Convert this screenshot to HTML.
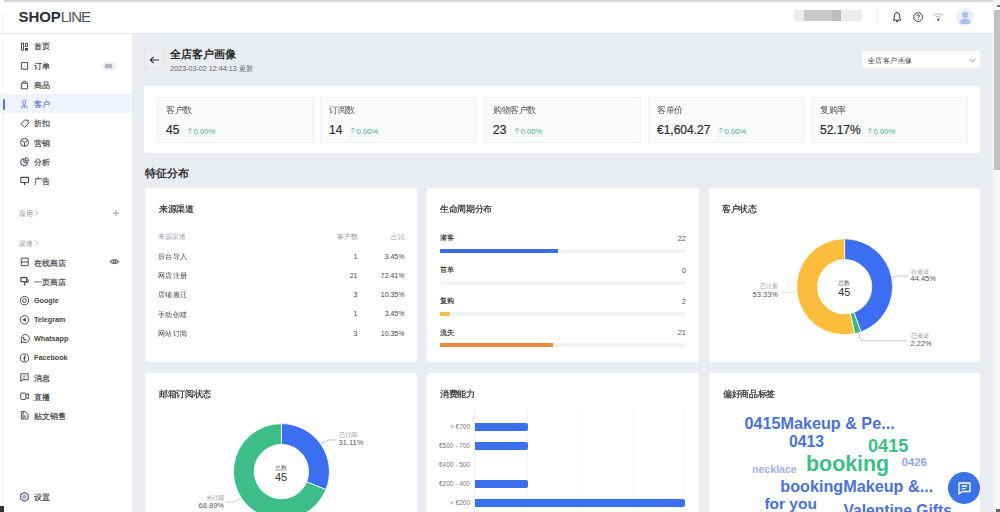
<!DOCTYPE html>
<html><head><meta charset="utf-8">
<style>
*{box-sizing:border-box;margin:0;padding:0}
html,body{width:1000px;height:512px;overflow:hidden;background:#fff;font-family:"Liberation Sans",sans-serif;color:#333}
.abs{position:absolute}
#topline{position:absolute;left:4px;top:0;width:990px;height:1.5px;background:#d6d6d6}
#header{position:absolute;left:0;top:1.5px;width:994px;height:32.5px;background:#fff;border-bottom:1px solid #e3e5ea}
#side{position:absolute;left:0;top:34px;width:132px;height:478px;background:#fff}
#main{position:absolute;left:132px;top:34px;width:862px;height:478px;background:#e9ecf1}
#sb{position:absolute;left:993px;top:0;width:7px;height:512px;background:#f6f6f6}
#sbt{position:absolute;left:994px;top:10px;width:6px;height:160px;background:#c1c1c1}
.nv{position:absolute;left:34px;font-size:7.5px;line-height:8px;color:#33363c;-webkit-text-stroke-width:0.15px;white-space:nowrap}
.nv.en{font-weight:bold;font-size:7.2px;color:#444;-webkit-text-stroke:0}
.card{position:absolute;background:#fff;border-radius:3px}
.ct{position:absolute;font-size:8px;line-height:10px;transform:scale(1.08);transform-origin:0 0;color:#2a2a2a;-webkit-text-stroke:0.2px #2a2a2a;white-space:nowrap}
.stat{position:absolute;background:#fafbfc;border:1px solid #eef0f3;border-radius:2px;top:97px;width:157px;height:46px}
.stat .l{position:absolute;left:8px;top:8.1px;font-size:8px;transform:scale(1.065);transform-origin:0 0;line-height:10px;color:#555;white-space:nowrap}
.stat .v{position:absolute;left:8px;top:25.8px;font-size:12px;line-height:13px;font-weight:normal;-webkit-text-stroke:0.2px #2a2a2a;color:#2a2a2a;white-space:nowrap}
.stat .g{position:absolute;top:29px;font-size:7.7px;line-height:8px;color:#45ad84;border-bottom:1px dotted #dcefe6;padding-bottom:0;white-space:nowrap}
.t7{position:absolute;font-size:7px;line-height:8px;color:#444;white-space:nowrap}
.r{text-align:right}
.wc{position:absolute;font-weight:bold;line-height:1;white-space:nowrap}
</style></head><body>
<div id="topline"></div>
<div id="header">
  <div class="abs" style="left:18.5px;top:7px;font-size:15px;line-height:15px;font-weight:bold;color:#2b2f36;letter-spacing:-0.1px;white-space:nowrap">SHOP<span style="font-weight:normal;color:#50545a;letter-spacing:-1px">LINE</span></div>
</div>
<div id="side"></div>
<div class="abs" style="left:2px;top:12px;width:1px;height:500px;background:#f1f2f4"></div>
<div id="main"></div>
<div id="sb"></div><div id="sbt"></div><div class="abs" style="left:997px;top:5px;width:3px;height:2px;background:#777"></div><div class="abs" style="left:996px;top:509px;width:4px;height:3px;background:#666"></div>
<!-- sidebar -->
<div class="abs" style="left:0;top:94px;width:132px;height:19px;background:#eef3fd"></div>
<div class="abs" style="left:3px;top:99px;width:2px;height:11px;background:#4b74e6;border-radius:1px"></div>
<div class="nv" style="top:43.4px">首页</div>
<div class="nv" style="top:62.7px">订单</div>
<div class="abs" style="left:103px;top:62px;width:13px;height:8px;background:#e9ecf2;border-radius:4px"></div>
<div class="abs" style="left:105.3px;top:64px;width:6.7px;height:4px;background:#b0b5bf"></div>
<div class="nv" style="top:82px">商品</div>
<div class="nv" style="top:100.7px;color:#4f73d9">客户</div>
<div class="nv" style="top:120.2px">折扣</div>
<div class="nv" style="top:139.5px">营销</div>
<div class="nv" style="top:158.7px">分析</div>
<div class="nv" style="top:177.7px">广告</div>

<div class="nv" style="left:19px;top:210.2px;font-size:6.8px;color:#8c9097;-webkit-text-stroke:0">应用<svg width="4" height="6" viewBox="0 0 4 6" style="margin-left:2px;vertical-align:0" fill="none" stroke="#a8acb3" stroke-width="0.8"><path d="M0.8 0.6 L3.2 3 L0.8 5.4"/></svg></div>
<svg class="abs" style="left:113px;top:210px" width="6" height="6" viewBox="0 0 6 6" fill="none" stroke="#9a9ea5" stroke-width="1"><path d="M3 0 V6 M0 3 H6"/></svg>
<div class="nv" style="left:19px;top:240.4px;font-size:6.8px;color:#8c9097;-webkit-text-stroke:0">渠道<svg width="4" height="6" viewBox="0 0 4 6" style="margin-left:2px;vertical-align:0" fill="none" stroke="#a8acb3" stroke-width="0.8"><path d="M0.8 0.6 L3.2 3 L0.8 5.4"/></svg></div>

<div class="nv" style="top:259.5px">在线商店</div>
<div class="nv" style="top:279px">一页商店</div>
<div class="nv en" style="top:296.6px">Google</div>
<div class="nv en" style="top:316px">Telegram</div>
<div class="nv en" style="top:334.8px">Whatsapp</div>
<div class="nv en" style="top:354px">Facebook</div>
<div class="nv" style="top:374.5px">消息</div>
<div class="nv" style="top:393.8px">直播</div>
<div class="nv" style="top:413px">贴文销售</div>
<div class="nv" style="top:494px">设置</div>
<div class="abs" style="left:0;top:506px;width:4px;height:6px;background:#333"></div>
<svg class="abs" style="left:0;top:33px" width="132" height="479" viewBox="0 33 132 479" fill="none" stroke="#4a4d55" stroke-width="1" stroke-linejoin="round">
<rect x="21.5" y="43" width="2" height="7.3"/><rect x="25.5" y="43.3" width="2" height="3.2"/><rect x="25" y="48" width="3" height="2.7" fill="#4a4d55" stroke="none"/>
<rect x="21.4" y="62.6" width="6.2" height="6.6"/><path d="M23.6 67 L25.6 65" stroke="#9aa0b8" stroke-width="0.8"/>
<path d="M21.4 83.2 H27.6 V88.8 H21.4 Z"/><path d="M22.9 83.2 V82.1 Q23 81.3 23.8 81.3 H25.2 Q26 81.3 26.1 82.1 V83.2"/>
<g stroke="#7f9be6" stroke-width="1.1"><ellipse cx="24.3" cy="102.3" rx="1.5" ry="1.9"/><path d="M24.3 104.4 L21 108.5 M24.3 104.4 L27.6 108.5 M24.3 104.4 V108.4"/></g>
<path d="M20.9 123.7 L24.4 120.1 H28.2 V123.9 L24.6 127.4 Z"/>
<circle cx="24.5" cy="142.4" r="4"/><path d="M24.5 142.6 V146.6 M24.5 142.6 L21.6 140.6 M24.5 142.6 L27.4 140.6" stroke-width="1"/>
<path d="M24 158.6 A3.6 3.6 0 1 0 27.7 162.3 H24 Z" fill="#e3e3f6"/><path d="M25.4 157.7 A3 3 0 0 1 28.5 160.9 H25.4 Z"/>
<rect x="20.8" y="177.4" width="7.7" height="5.1" stroke-width="1.1"/><path d="M24.6 182.5 V185" stroke-width="1.3"/><path d="M22.6 180.6 L26.2 178.9" stroke="#bbb" stroke-width="0.8"/>
<rect x="21.3" y="258.2" width="6.9" height="7.5"/><path d="M21.3 262 H28.2"/>
<path d="M20.9 277.7 H26.8 V281.7 H20.9 Z" stroke-width="1.2"/><path d="M26.8 279.2 Q28.6 279.5 28.4 281.5 Q28.1 282.8 25.5 282.8" stroke-width="1.1"/><path d="M24.6 282.3 V285.4" stroke-width="1.3"/>
<circle cx="24.5" cy="300.6" r="4.1"/><circle cx="24.5" cy="300.6" r="1.9"/>
<circle cx="24.5" cy="319.8" r="4.2"/><path d="M22.2 319.8 L26.1 317.7 L25.7 321.9 Z" fill="#4a4d55" stroke="none"/>
<path d="M21 342.8 L21.7 340.6 A4.1 4.1 0 1 1 23.3 342.2 Z"/><path d="M23.1 336.9 Q23.3 339.6 26.2 340.6" stroke-width="1.1"/>
<circle cx="24.5" cy="358" r="4.1"/><path d="M25.9 355.7 H25.3 Q24.4 355.7 24.4 356.7 V361.3 M23.4 357.9 H25.9" stroke-width="1.1"/>
<g stroke="#5c6070"><path d="M20.8 373.8 H28.2 V379.6 H23 L20.8 381.3 Z" stroke-width="1.1"/><path d="M22.7 376 H26.4 M22.7 377.8 H25" stroke-width="0.8"/></g>
<rect x="20.7" y="393.1" width="5.2" height="6.3" rx="0.8"/><path d="M25.9 394.8 L28.4 393.7 V398.7 L25.9 397.6"/>
<path d="M21.3 411.6 H25.3 L28 414.3 V419 H21.3 Z"/><path d="M23.1 411.8 V419"/><rect x="23.6" y="415.3" width="2.6" height="2.3" fill="#888" stroke="none"/>
<g stroke="#5a5f80" stroke-width="1.1"><path d="M24.5 492.4 L28.3 494.6 V499 L24.5 501.2 L20.7 499 V494.6 Z" fill="#eeeefa"/><circle cx="24.5" cy="496.8" r="1.4" fill="#c8cae8" stroke-width="0.7"/></g>
<g stroke="#6b6f78" stroke-width="1.1"><path d="M110.3 261.6 Q114.5 257.6 118.7 261.6 Q114.5 265.6 110.3 261.6 Z"/><circle cx="114.5" cy="261.6" r="1.3"/></g>
</svg>
<!-- header right -->
<div class="abs" style="left:794px;top:10px;width:68px;height:11px;background:#ececec;filter:blur(0.6px)"></div>
<div class="abs" style="left:804px;top:10px;width:37px;height:11px;background:#c9c9c9;filter:blur(0.6px)"></div>
<div class="abs" style="left:832px;top:10px;width:9px;height:11px;background:#bdbdbd;filter:blur(0.6px)"></div>
<div class="abs" style="left:877px;top:10px;width:1px;height:13px;background:#e8e8e8"></div>
<svg class="abs" style="left:892px;top:11px" width="10" height="12" viewBox="0 0 10 12" fill="none" stroke="#333" stroke-width="1"><path d="M5 1.6 Q2.2 1.8 2.2 5 V7.8 L1.3 9.2 H8.7 L7.8 7.8 V5 Q7.8 1.8 5 1.6 Z" stroke-linejoin="round"/><path d="M5 0.8 V1.6 M4.1 10.4 H5.9" stroke-width="1.1"/></svg>
<svg class="abs" style="left:912.5px;top:12px" width="11" height="11" viewBox="0 0 11 11" fill="none" stroke="#444" stroke-width="1"><circle cx="5.2" cy="5.1" r="4.4"/><path d="M3.9 4.1 Q4 2.8 5.2 2.8 Q6.5 2.8 6.5 4 Q6.5 4.8 5.2 5.4 V6.2"/><circle cx="5.2" cy="7.6" r="0.5" fill="#444" stroke="none"/></svg>
<svg class="abs" style="left:933px;top:12px" width="11" height="10" viewBox="0 0 11 10" fill="none" stroke="#a0a0a0" stroke-width="0.9"><path d="M0.8 3.6 Q5.3 0 9.8 3.6"/><path d="M2.6 5.4 Q5.3 3.2 8 5.4"/><circle cx="5.3" cy="7.6" r="1.1" fill="#333" stroke="none"/></svg>
<div class="abs" style="left:956px;top:8px;width:18px;height:18px;border-radius:50%;background:#e9eefb"></div>
<svg class="abs" style="left:956px;top:8px" width="18" height="18" viewBox="0 0 18 18"><circle cx="9" cy="6.8" r="3.1" fill="#a8bff2"/><path d="M3.5 15 Q4 10.5 9 10.5 Q14 10.5 14.5 15 Q9 17.5 3.5 15 Z" fill="#a8bff2"/></svg>

<!-- page title -->
<div class="abs" style="left:144px;top:49px;width:20px;height:20px;background:#eceef2;border:1px solid #e2e4e8;border-radius:2px"></div>
<svg class="abs" style="left:149px;top:54.5px" width="11" height="10" viewBox="0 0 11 10" fill="none" stroke="#333" stroke-width="1.1"><path d="M10 5 H1.3 M4.6 1.8 L1.3 5 L4.6 8.2"/></svg>
<div class="abs" style="left:170px;top:48.3px;font-size:10.5px;line-height:12px;font-weight:bold;color:#2a2a2a">全店客户画像</div>
<div class="abs" style="left:170px;top:64.8px;font-size:7.2px;line-height:8px;color:#666">2023-03-02 12:44:13 更新</div>
<div class="abs" style="left:862px;top:51px;width:118px;height:17px;background:#fff;border-radius:2px"></div>
<div class="abs" style="left:867.5px;top:55.8px;font-size:8px;transform:scale(0.93);transform-origin:0 0;line-height:9px;color:#444">全店客户画像</div>
<svg class="abs" style="left:969px;top:57.5px" width="7" height="5" viewBox="0 0 7 5" fill="none" stroke="#888" stroke-width="0.9"><path d="M0.8 1 L3.5 3.8 L6.2 1"/></svg>

<!-- stats -->
<div class="card" style="left:144px;top:86px;width:836px;height:67px"></div>
<div class="stat" style="left:157px"><div class="l">客户数</div><div class="v">45</div><div class="g" style="left:29px"><svg width="6" height="7" viewBox="0 0 6 7" style="vertical-align:0;margin-right:0.5px" fill="none" stroke="#7cc4a6" stroke-width="0.8"><path d="M3 6.5 V1 M0.6 3.4 L3 1 L5.4 3.4"/></svg>0.00%</div></div>
<div class="stat" style="left:320px"><div class="l">订阅数</div><div class="v">14</div><div class="g" style="left:29px"><svg width="6" height="7" viewBox="0 0 6 7" style="vertical-align:0;margin-right:0.5px" fill="none" stroke="#7cc4a6" stroke-width="0.8"><path d="M3 6.5 V1 M0.6 3.4 L3 1 L5.4 3.4"/></svg>0.00%</div></div>
<div class="stat" style="left:484px"><div class="l">购物客户数</div><div class="v">23</div><div class="g" style="left:29px"><svg width="6" height="7" viewBox="0 0 6 7" style="vertical-align:0;margin-right:0.5px" fill="none" stroke="#7cc4a6" stroke-width="0.8"><path d="M3 6.5 V1 M0.6 3.4 L3 1 L5.4 3.4"/></svg>0.00%</div></div>
<div class="stat" style="left:648px"><div class="l">客单价</div><div class="v">€1,604.27</div><div class="g" style="left:69px"><svg width="6" height="7" viewBox="0 0 6 7" style="vertical-align:0;margin-right:0.5px" fill="none" stroke="#7cc4a6" stroke-width="0.8"><path d="M3 6.5 V1 M0.6 3.4 L3 1 L5.4 3.4"/></svg>0.00%</div></div>
<div class="stat" style="left:811px"><div class="l">复购率</div><div class="v">52.17%</div><div class="g" style="left:55px"><svg width="6" height="7" viewBox="0 0 6 7" style="vertical-align:0;margin-right:0.5px" fill="none" stroke="#7cc4a6" stroke-width="0.8"><path d="M3 6.5 V1 M0.6 3.4 L3 1 L5.4 3.4"/></svg>0.00%</div></div>

<div class="abs" style="left:144.5px;top:166.8px;font-size:10.5px;line-height:13px;font-weight:bold;color:#2e2e2e">特征分布</div>

<!-- row 1 -->
<div class="card" style="left:145px;top:188px;width:272px;height:174px"></div>
<div class="card" style="left:427px;top:188px;width:272px;height:174px"></div>
<div class="card" style="left:709px;top:188px;width:271px;height:174px"></div>
<!-- row 2 -->
<div class="card" style="left:145px;top:373px;width:272px;height:150px"></div>
<div class="card" style="left:427px;top:373px;width:272px;height:150px"></div>
<div class="card" style="left:709px;top:373px;width:271px;height:150px"></div>

<!-- card1 来源渠道 -->
<div class="ct" style="left:159px;top:204px">来源渠道</div>
<div class="t7" style="left:158px;top:232.8px;font-size:7.3px;color:#9a9cae">来源渠道</div>
<div class="t7 r" style="left:317px;width:40.5px;top:232.8px;font-size:7.3px;color:#9a9cae">客户数</div>
<div class="t7 r" style="left:364px;width:40.5px;top:232.8px;font-size:7.3px;color:#9a9cae">占比</div>
<div class="t7" style="left:158px;top:253.3px;font-size:8px;transform:scale(0.925);transform-origin:0 0">后台导入</div>
<div class="t7 r" style="left:317px;width:40.5px;top:252.7px">1</div>
<div class="t7 r" style="left:364px;width:40.5px;top:252.7px">3.45%</div>
<div class="t7" style="left:158px;top:272.1px;font-size:8px;transform:scale(0.925);transform-origin:0 0">网店注册</div>
<div class="t7 r" style="left:317px;width:40.5px;top:271.5px">21</div>
<div class="t7 r" style="left:364px;width:40.5px;top:271.5px">72.41%</div>
<div class="t7" style="left:158px;top:291.3px;font-size:8px;transform:scale(0.925);transform-origin:0 0">店铺搬迁</div>
<div class="t7 r" style="left:317px;width:40.5px;top:290.7px">3</div>
<div class="t7 r" style="left:364px;width:40.5px;top:290.7px">10.35%</div>
<div class="t7" style="left:158px;top:310.8px;font-size:8px;transform:scale(0.925);transform-origin:0 0">手动创建</div>
<div class="t7 r" style="left:317px;width:40.5px;top:310.2px">1</div>
<div class="t7 r" style="left:364px;width:40.5px;top:310.2px">3.45%</div>
<div class="t7" style="left:158px;top:330.1px;font-size:8px;transform:scale(0.925);transform-origin:0 0">网站订阅</div>
<div class="t7 r" style="left:317px;width:40.5px;top:329.5px">3</div>
<div class="t7 r" style="left:364px;width:40.5px;top:329.5px">10.35%</div>

<!-- card2 生命周期分布 -->
<div class="ct" style="left:440.3px;top:204px">生命周期分布</div>
<div class="t7" style="left:439.5px;top:234.0px;color:#2a2a2a;-webkit-text-stroke:0.15px #2a2a2a">潜客</div>
<div class="t7 r" style="left:640px;width:46px;top:234.5px;font-size:7.5px;color:#555">22</div>
<div class="abs" style="left:439.5px;top:248.5px;width:246.5px;height:4px;background:#f2f3f5;border-radius:2px"></div>
<div class="abs" style="left:439.5px;top:248.5px;width:118px;height:4px;background:#3b6ddf;border-radius:0"></div>
<div class="t7" style="left:439.5px;top:266.2px;color:#2a2a2a;-webkit-text-stroke:0.15px #2a2a2a">首单</div>
<div class="t7 r" style="left:640px;width:46px;top:266.7px;font-size:7.5px;color:#555">0</div>
<div class="abs" style="left:439.5px;top:280.5px;width:246.5px;height:4px;background:#f2f3f5;border-radius:2px"></div>
<div class="t7" style="left:439.5px;top:297.2px;color:#2a2a2a;-webkit-text-stroke:0.15px #2a2a2a">复购</div>
<div class="t7 r" style="left:640px;width:46px;top:297.7px;font-size:7.5px;color:#555">2</div>
<div class="abs" style="left:439.5px;top:312px;width:246.5px;height:4px;background:#f2f3f5;border-radius:2px"></div>
<div class="abs" style="left:439.5px;top:312px;width:10px;height:4px;background:#f5c34a"></div>
<div class="t7" style="left:439.5px;top:328.8px;color:#2a2a2a;-webkit-text-stroke:0.15px #2a2a2a">流失</div>
<div class="t7 r" style="left:640px;width:46px;top:329.3px;font-size:7.5px;color:#555">21</div>
<div class="abs" style="left:439.5px;top:343px;width:246.5px;height:4px;background:#f2f3f5;border-radius:2px"></div>
<div class="abs" style="left:439.5px;top:343px;width:113px;height:4px;background:#ec8a3c"></div>

<!-- card3 客户状态 -->
<div class="ct" style="left:722px;top:204px">客户状态</div>
<svg class="abs" style="left:709px;top:188px" width="272" height="174" viewBox="709 188 272 174">
<path d="M844.60 238.80 A48 48 0 0 1 861.00 331.91 L853.89 312.36 A27.2 27.2 0 0 0 844.60 259.60 Z" fill="#3b6ef0" stroke="#fff" stroke-width="0.8"/>
<path d="M861.00 331.91 A48 48 0 0 1 854.57 333.75 L850.25 313.41 A27.2 27.2 0 0 0 853.89 312.36 Z" fill="#3bb87f" stroke="#fff" stroke-width="0.8"/>
<path d="M854.57 333.75 A48 48 0 1 1 844.60 238.80 L844.60 259.60 A27.2 27.2 0 1 0 850.25 313.41 Z" fill="#fbbd3b" stroke="#fff" stroke-width="0.8"/>
<path d="M892.5 277.5 L897 276 H908" stroke="#b4b8c4" stroke-width="0.8" fill="none"/>
<path d="M857.8 333.2 L861 340.7 H907" stroke="#b6c9bf" stroke-width="0.8" fill="none"/>
<path d="M796 292.3 H780" stroke="#ddd8c6" stroke-width="0.8" fill="none"/>
</svg>
<div class="abs" style="left:837.6px;top:279px;font-size:6.3px;line-height:7px;color:#555">总数</div>
<div class="abs" style="left:838.2px;top:287.2px;font-size:11px;line-height:11px;color:#333">45</div>
<div class="t7" style="left:910.5px;top:268px;font-size:6.2px;color:#999">待邀请</div>
<div class="t7" style="left:910.5px;top:275px;font-size:7.5px;color:#555">44.45%</div>
<div class="t7" style="left:910.5px;top:331.5px;font-size:6.2px;color:#999">已邀请</div>
<div class="t7" style="left:910.5px;top:339.5px;font-size:7.5px;color:#555">2.22%</div>
<div class="t7 r" style="left:738px;width:40px;top:281.5px;font-size:6.2px;color:#999">已注册</div>
<div class="t7 r" style="left:738px;width:40px;top:290.5px;font-size:7.5px;color:#555">53.33%</div>

<!-- card4 邮箱订阅状态 -->
<div class="ct" style="left:159px;top:388.5px">邮箱订阅状态</div>
<!-- card5 消费能力 -->
<div class="ct" style="left:440.3px;top:388.5px">消费能力</div>
<!-- card6 偏好商品标签 -->
<div class="ct" style="left:722.5px;top:388.5px">偏好商品标签</div>

<svg class="abs" style="left:145px;top:373px" width="272" height="139" viewBox="145 373 272 139">
<path d="M281.40 423.60 A48 48 0 0 1 325.91 489.58 L306.62 481.79 A27.2 27.2 0 0 0 281.40 444.40 Z" fill="#3b6ef0" stroke="#fff" stroke-width="0.8"/>
<path d="M325.91 489.58 A48 48 0 1 1 281.40 423.60 L281.40 444.40 A27.2 27.2 0 1 0 306.62 481.79 Z" fill="#3cbd8a" stroke="#fff" stroke-width="0.8"/>
<path d="M320.6 443.9 L328.6 439.9 H336" stroke="#b4b8c4" stroke-width="0.8" fill="none"/>
<path d="M240 498.6 L233 502 H226" stroke="#b8c6c0" stroke-width="0.8" fill="none"/>
</svg>
<div class="abs" style="left:274.8px;top:463.7px;font-size:6.3px;line-height:7px;color:#555">总数</div>
<div class="abs" style="left:275px;top:471.8px;font-size:11px;line-height:11px;color:#333">45</div>
<div class="t7" style="left:338.5px;top:431px;font-size:6.2px;color:#999">已订阅</div>
<div class="t7" style="left:338.5px;top:439px;font-size:7.5px;color:#555">31.11%</div>
<div class="t7 r" style="left:184px;width:40px;top:494px;font-size:6.2px;color:#999">未订阅</div>
<div class="t7 r" style="left:184px;width:40px;top:502px;font-size:7.5px;color:#555">68.89%</div>

<!-- bars -->
<div class="abs" style="left:474px;top:408px;width:1px;height:104px;background:#eef0f3"></div>
<div class="abs" style="left:527px;top:408px;width:1px;height:104px;background:#f5f6f8"></div>
<div class="abs" style="left:580.5px;top:408px;width:1px;height:104px;background:#f5f6f8"></div>
<div class="abs" style="left:632.5px;top:408px;width:1px;height:104px;background:#f5f6f8"></div>
<div class="abs" style="left:684px;top:408px;width:1px;height:104px;background:#f5f6f8"></div>
<div class="abs" style="left:475px;top:422.5px;width:52.5px;height:8.5px;background:#3b6fec;border-radius:0 2px 2px 0"></div>
<div class="abs" style="left:475px;top:441.5px;width:52.5px;height:8.5px;background:#3b6fec;border-radius:0 2px 2px 0"></div>
<div class="abs" style="left:475px;top:479.8px;width:52.5px;height:8.5px;background:#3b6fec;border-radius:0 2px 2px 0"></div>
<div class="abs" style="left:475px;top:498.7px;width:209.5px;height:8.5px;background:#3b6fec;border-radius:0 2px 2px 0"></div>
<div class="t7 r" style="left:420px;width:50px;top:422.5px;font-size:6.5px;color:#777">&gt; €700</div>
<div class="t7 r" style="left:420px;width:50px;top:441.6px;font-size:6.5px;color:#777">€500 - 700</div>
<div class="t7 r" style="left:420px;width:50px;top:460.5px;font-size:6.5px;color:#777">€400 - 500</div>
<div class="t7 r" style="left:420px;width:50px;top:479.9px;font-size:6.5px;color:#777">€200 - 400</div>
<div class="t7 r" style="left:420px;width:50px;top:498.8px;font-size:6.5px;color:#777">&lt; €200</div>

<!-- word cloud -->
<div class="wc" style="left:744.4px;top:415.29px;font-size:16.2px;color:#4a72d9">0415Makeup &amp; Pe...</div>
<div class="wc" style="left:789px;top:434.03px;font-size:15.8px;color:#4a72d9">0413</div>
<div class="wc" style="left:868px;top:436.59px;font-size:18.2px;color:#3dbd88">0415</div>
<div class="wc" style="left:806px;top:453.88px;font-size:21.4px;color:#3dbd88">booking</div>
<div class="wc" style="left:901.6px;top:457.35px;font-size:11.4px;color:#8fa6e8">0426</div>
<div class="wc" style="left:752px;top:464.03px;font-size:10.6px;color:#9fb2ec">necklace</div>
<div class="wc" style="left:780.3px;top:478.29px;font-size:16.2px;color:#4a72d9">bookingMakeup &amp;...</div>
<div class="wc" style="left:764.4px;top:495.88px;font-size:15.5px;color:#4a72d9">for you</div>
<div class="wc" style="left:843.5px;top:503.17px;font-size:15.6px;color:#4a72d9">Valentine Gifts</div>

<!-- chat button -->
<div class="abs" style="left:948.3px;top:472px;width:31.8px;height:31.8px;border-radius:50%;background:#3a73e8"></div>
<svg class="abs" style="left:957px;top:481px" width="15" height="15" viewBox="0 0 15 15" fill="none" stroke="#fff" stroke-width="1.3"><path d="M2 2 H13 V10.5 H5 L2 13 Z" stroke-linejoin="round"/><path d="M4.8 5 H10.2 M4.8 7.6 H8.5"/></svg>

</body></html>
